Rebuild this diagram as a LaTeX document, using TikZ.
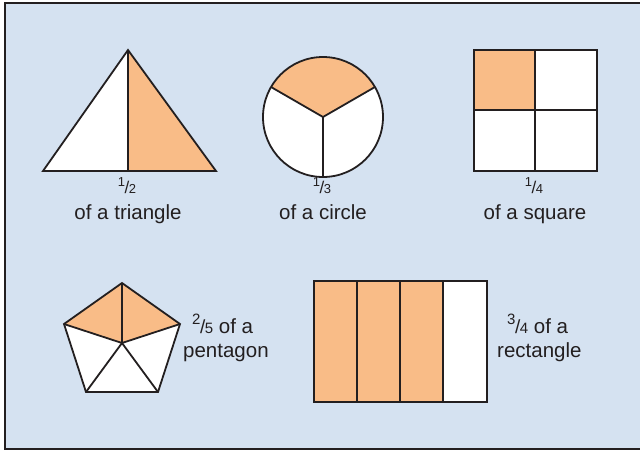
\documentclass[tikz,border=0pt]{standalone}
\usepackage{fontspec}
\setmainfont{Liberation Sans}
\definecolor{bgblue}{HTML}{D5E2F1}
\definecolor{frac}{HTML}{F9BC87}
\definecolor{edge}{HTML}{231F20}
\newcommand{\smallfrac}[2]{\raisebox{0.3em}{\fontsize{13}{13}\selectfont #1}\kern-0.5pt{\fontsize{17}{17}\selectfont /}\kern-0.5pt{\fontsize{13}{13}\selectfont #2}}
\newcommand{\bigfrac}[2]{\raisebox{0.4em}{\fontsize{15}{15}\selectfont #1}\kern-0.5pt{\fontsize{19}{19}\selectfont /}\kern-0.5pt{\fontsize{15}{15}\selectfont #2}}
\begin{document}
\begin{tikzpicture}[x=1pt,y=-1pt,
  shp/.style={draw=edge,line width=1.8pt,line join=miter},
  lbl/.style={font=\fontsize{20.5}{24}\selectfont,text=edge,inner sep=0pt}]
\useasboundingbox (0,0) rectangle (640,451);
\begin{scope}
\clip (0,0) rectangle (640,451);
\draw[fill=bgblue,draw=edge,line width=2pt] (5,3) rectangle (660,449);
\end{scope}
% triangle
\coordinate (tA) at (128,50);
\coordinate (tL) at (43,171);
\coordinate (tR) at (216,171);
\coordinate (tM) at (128,171);
\fill[white] (tL) -- (tA) -- (tM) -- cycle;
\fill[frac] (tA) -- (tR) -- (tM) -- cycle;
\draw[shp] (tL) -- (tA) -- (tR) -- cycle;
\draw[shp] (tA) -- (tM);
\node[lbl,anchor=base] (t1) at (127,193) {\smallfrac{1}{2}};
\node[lbl,anchor=base] (t2) at (128,219) {of a triangle};
% circle
\coordinate (cC) at (323,117);
\fill[white] (cC) circle (60);
\fill[frac] (cC) -- ++(-51.96,-30) arc[start angle=210,end angle=330,radius=60] -- cycle;
\draw[shp] (cC) circle (60);
\draw[shp] (cC) -- ++(0,60);
\draw[shp] (cC) -- ++(-51.96,-30);
\draw[shp] (cC) -- ++(51.96,-30);
\node[lbl,anchor=base] (c1) at (322,193) {\smallfrac{1}{3}};
\node[lbl,anchor=base] (c2) at (323,219) {of a circle};
% square
\fill[white] (474,50) rectangle (597,171);
\fill[frac] (474,50) rectangle (535,110);
\draw[shp] (474,50) rectangle (597,171);
\draw[shp] (535,50) -- (535,171);
\draw[shp] (474,110) -- (597,110);
\node[lbl,anchor=base] (s1) at (534,193) {\smallfrac{1}{4}};
\node[lbl,anchor=base] (s2) at (535,219) {of a square};
% pentagon
\coordinate (pC) at (122,343);
\coordinate (pT) at (122,283);
\coordinate (pL) at (64,324);
\coordinate (pR) at (180,324);
\coordinate (pBL) at (86,392);
\coordinate (pBR) at (158,392);
\fill[white] (pT) -- (pR) -- (pBR) -- (pBL) -- (pL) -- cycle;
\fill[frac] (pL) -- (pT) -- (pR) -- (pC) -- cycle;
\draw[shp] (pT) -- (pR) -- (pBR) -- (pBL) -- (pL) -- cycle;
\foreach \v in {pT,pR,pBR,pBL,pL} \draw[shp] (pC) -- (\v);
\node[lbl,anchor=base west] (p1) at (192,333) {\bigfrac{2}{5} of a};
\node[lbl,anchor=base west] (p2) at (183,357) {pentagon};
% rectangle
\fill[frac] (314,281) rectangle (443,402);
\fill[white] (443,281) rectangle (487,402);
\draw[shp] (314,281) rectangle (487,402);
\foreach \x in {357,400,443} \draw[shp] (\x,281) -- (\x,402);
\node[lbl,anchor=base west] (r1) at (507,333) {\bigfrac{3}{4} of a};
\node[lbl,anchor=base west] (r2) at (497,357) {rectangle};
\end{tikzpicture}
\end{document}
